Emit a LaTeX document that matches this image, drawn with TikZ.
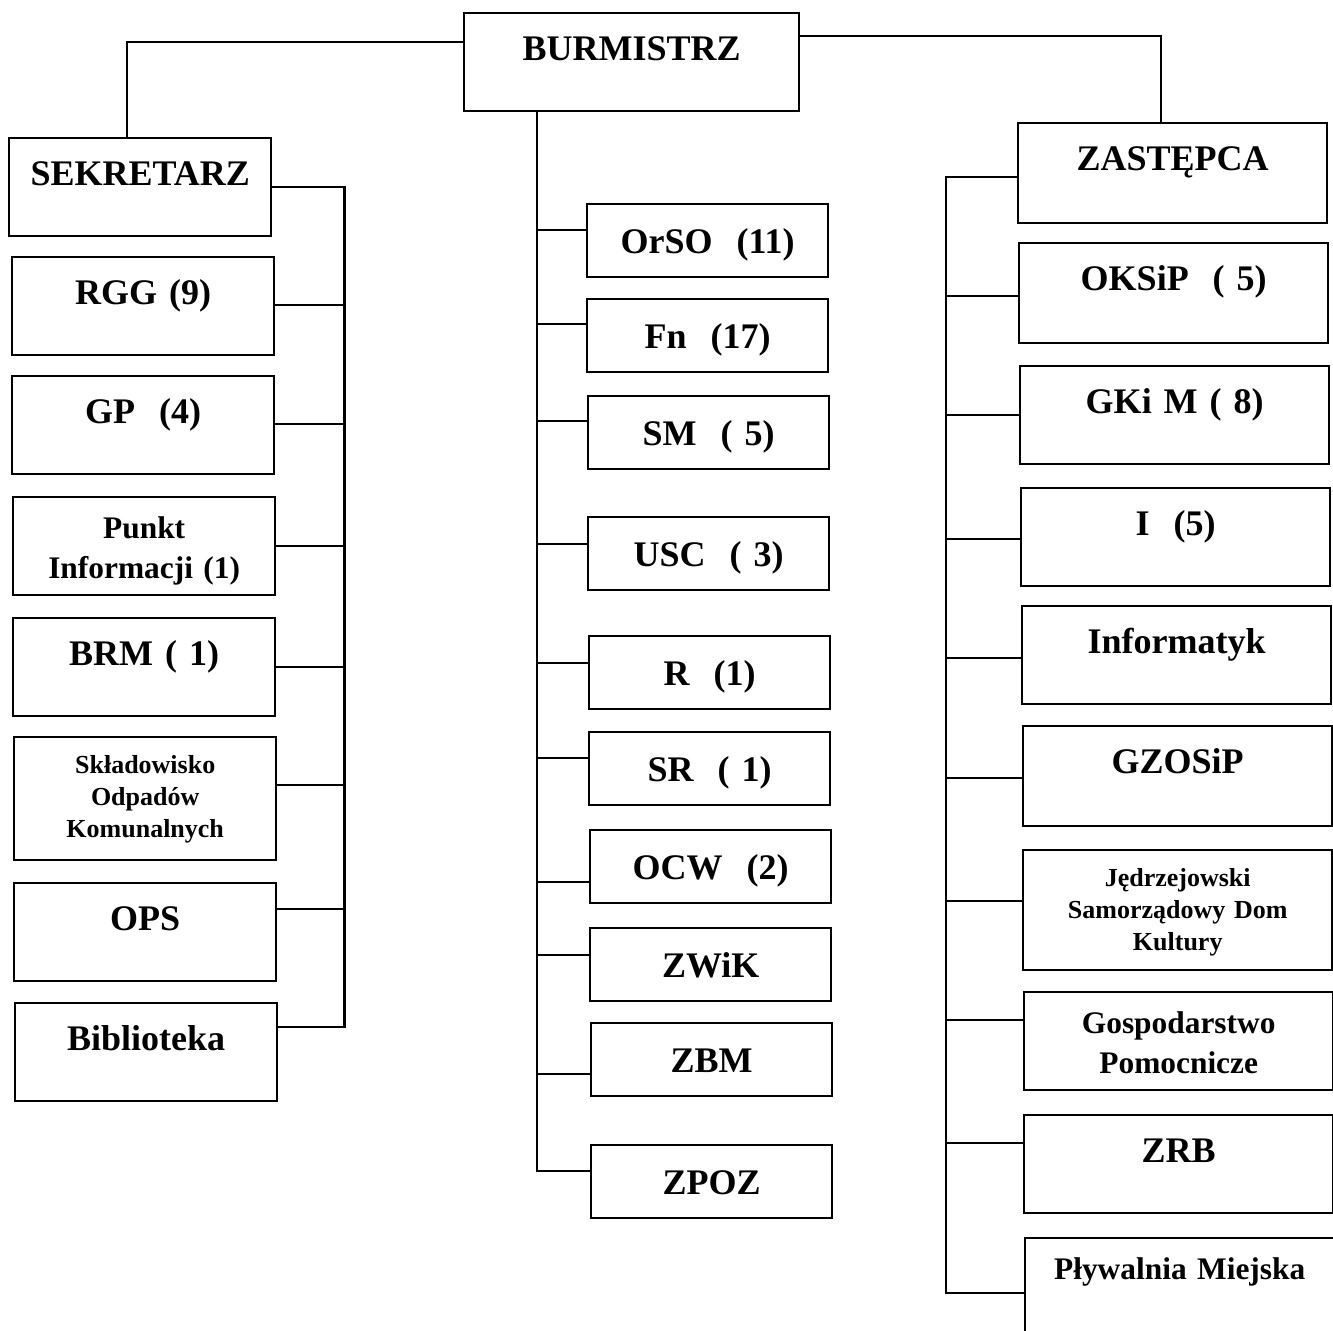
\documentclass[tikz,border=0pt]{standalone}
\usepackage{fontspec}
\setmainfont{Liberation Serif}
\newcommand{\bigfnt}{\fontsize{18}{22}\selectfont\bfseries}
\newcommand{\midfnt}{\fontsize{15.7}{20}\selectfont\bfseries}
\newcommand{\smallfnt}{\fontsize{13}{16}\selectfont\bfseries}

\tikzset{
  unit/.style={draw, line width=1.2pt, anchor=north west, inner sep=0pt, align=center,
    font=\bigfnt, text height=23.5pt, text depth=25.5pt},
  lcol/.style={unit, text width=131pt},
  mcol/.style={unit, text width=120.5pt, text height=24.5pt, text depth=12pt},
  rcol/.style={unit, text width=154.5pt},
  midtxt/.style={font=\midfnt, text height=20.5pt, text depth=28.5pt},
  smalltxt/.style={font=\smallfnt, text height=18pt, text depth=43.5pt},
  link/.style={line width=1.2pt}
}

\begin{document}
\begin{tikzpicture}[x=0.5pt,y=-0.5pt]
  \useasboundingbox (0,0) rectangle (1333,1330);

  % gora
  \node[unit, text width=167.5pt] (burm) at (463,12) {BURMISTRZ};
  \node[lcol] (sekr) at (8,137) {SEKRETARZ};
  \node[rcol, text depth=26.5pt] (zast) at (1017,122) {ZASTĘPCA};

  % kolumna lewa
  \node[lcol] (rgg) at (11,256) {RGG (9)};
  \node[lcol] (gp) at (11,375) {GP\ \ (4)};
  \node[lcol, midtxt] (punkt) at (12,496) {Punkt\\Informacji (1)};
  \node[lcol] (brm) at (12,617) {BRM ( 1)};
  \node[lcol, smalltxt] (sklad) at (13,736) {Składowisko\\Odpadów\\Komunalnych};
  \node[lcol] (ops) at (13,882) {OPS};
  \node[lcol] (bib) at (14,1002) {Biblioteka};

  % kolumna srodkowa
  \node[mcol] (orso) at (586,203) {OrSO\ \ (11)};
  \node[mcol] (fn) at (586,298) {Fn\ \ (17)};
  \node[mcol] (sm) at (587,395) {SM\ \ ( 5)};
  \node[mcol] (usc) at (587,516) {USC\ \ ( 3)};
  \node[mcol] (r1) at (588,635) {R\ \ (1)};
  \node[mcol] (sr) at (588,731) {SR\ \ ( 1)};
  \node[mcol] (ocw) at (589,829) {OCW\ \ (2)};
  \node[mcol] (zwik) at (589,927) {ZWiK};
  \node[mcol] (zbm) at (590,1022) {ZBM};
  \node[mcol] (zpoz) at (590,1144) {ZPOZ};

  % kolumna prawa
  \node[rcol, text depth=26.5pt] (oksip) at (1018,242) {OKSiP\ \ ( 5)};
  \node[rcol] (gkim) at (1019,365) {GKi M ( 8)};
  \node[rcol] (i1) at (1020,487) {I\ \ (5)};
  \node[rcol] (inf) at (1021,605) {Informatyk};
  \node[rcol, text depth=26.5pt] (gzosip) at (1022,725) {GZOSiP};
  \node[rcol, smalltxt, text depth=42pt] (jedrz) at (1022,849) {Jędrzejowski\\Samorządowy Dom\\Kultury};
  \node[rcol, midtxt] (gosp) at (1023,991) {Gospodarstwo\\Pomocnicze};
  \node[rcol] (zrb) at (1023,1114) {ZRB};
  \node[rcol, midtxt, text depth=34.5pt] (plyw) at (1024,1237) {Pływalnia Miejska};

  % polaczenia z burmistrzem
  \draw[link] ([yshift=10pt]burm.west) -| ([xshift=-6.5pt]sekr.north);
  \draw[link] ([yshift=13pt]burm.east) -| ([xshift=-6pt]zast.north);

  % szyna lewa
  \draw[link] (sekr.east) -- ++(36pt,0) coordinate (lb) |- ([yshift=12.5pt]bib.east);
  \foreach \n/\dy in {rgg/0.5,gp/0.5,punkt/0,brm/0,sklad/7,ops/11.5}
    \draw[link] ([yshift=\dy pt]\n.east) coordinate (hook) -- (lb |- hook);

  % szyna srodkowa
  \coordinate (mb) at ([xshift=37pt]burm.south west);
  \draw[link] (mb) |- ([yshift=5.5pt]zpoz.west);
  \foreach \n/\dy in {orso/5.5,fn/6,sm/6,usc/5,r1/5,sr/5.5,ocw/-7.5,zwik/5,zbm/-7}
    \draw[link] ([yshift=\dy pt]\n.west) coordinate (hook) -- (mb |- hook);

  % szyna prawa
  \draw[link] ([yshift=-2pt]zast.west) -- ++(-35.5pt,0) coordinate (rb) |- (plyw.west);
  \foreach \n/\dy in {oksip/-1.5,gkim/0,i1/-1,inf/-1.5,gzosip/-1,jedrz/4.5,gosp/10.5,zrb/10.5}
    \draw[link] ([yshift=\dy pt]\n.west) coordinate (hook) -- (rb |- hook);
\end{tikzpicture}
\end{document}
